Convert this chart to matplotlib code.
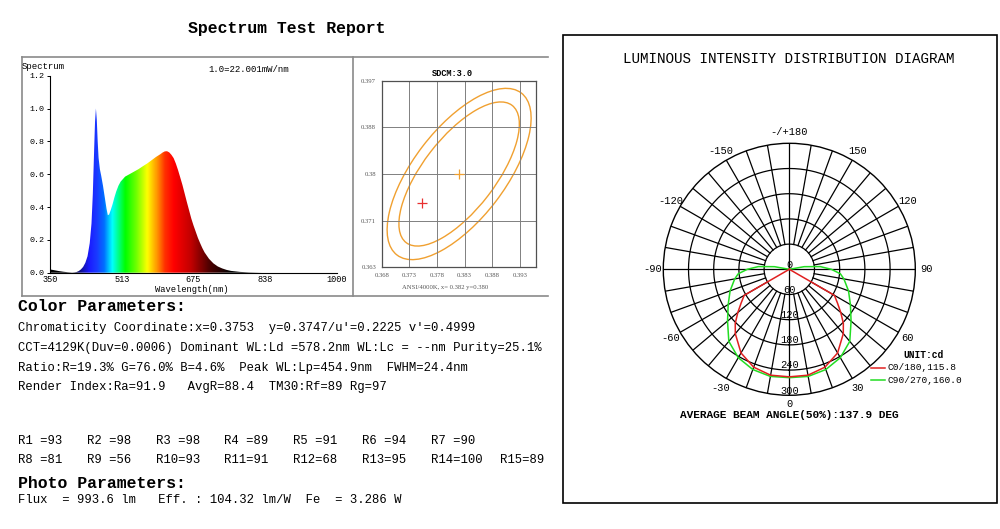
import numpy as np
import matplotlib
matplotlib.use("Agg")
import matplotlib.pyplot as plt
from matplotlib.colors import LinearSegmentedColormap, Normalize
from matplotlib.patches import Ellipse, Rectangle, Polygon

MONO = "Liberation Mono"

# ---- spectrum (relative, 1.0 = 22.001 mW/nm)
wavelength = [350, 360, 370, 380, 390, 400, 405, 410, 415, 420, 425, 430, 435, 440,
              444, 447, 450, 452, 454, 456, 458, 460, 463, 466, 470, 474, 478, 481,
              484, 488, 492, 496, 500, 505, 510, 515, 520, 530, 540, 550, 560, 570,
              580, 590, 600, 605, 610, 615, 620, 625, 630, 635, 640, 645, 650, 655,
              660, 665, 670, 675, 680, 685, 690, 695, 700, 710, 720, 730, 740, 750,
              760, 780, 800, 830, 1000]
intensity = [0.020, 0.015, 0.010, 0.006, 0.003, 0.001, 0.002, 0.004, 0.010, 0.020,
             0.035, 0.060, 0.100, 0.180, 0.300, 0.480, 0.750, 0.920, 1.000, 0.930,
             0.800, 0.700, 0.630, 0.590, 0.530, 0.460, 0.390, 0.350, 0.355, 0.385,
             0.420, 0.460, 0.495, 0.530, 0.555, 0.570, 0.585, 0.600, 0.615, 0.630,
             0.648, 0.665, 0.685, 0.705, 0.722, 0.732, 0.739, 0.740, 0.733, 0.718,
             0.698, 0.665, 0.625, 0.580, 0.534, 0.482, 0.430, 0.380, 0.330, 0.288,
             0.250, 0.212, 0.180, 0.150, 0.124, 0.085, 0.057, 0.038, 0.026, 0.017,
             0.011, 0.005, 0.002, 0.000, 0.000]
spec_xticks = [350, 512.5, 675, 837.5, 1000]
spec_xticklabels = ["350", "513", "675", "838", "1000"]
spec_yticks = [0.0, 0.2, 0.4, 0.6, 0.8, 1.0, 1.2]

# ---- chromaticity (SDCM)
cie_xticks = [0.368, 0.373, 0.378, 0.383, 0.388, 0.393]
cie_yticks = [0.363, 0.3715, 0.380, 0.3885, 0.397]
cie_yticklabels = ["0.363", "0.371", "0.38", "0.388", "0.397"]
target_xy = (0.382, 0.380)
measured_xy = (0.3753, 0.3747)
ellipse_width = [0.0371, 0.0315]
ellipse_height = [0.0166, 0.0131]
ellipse_angle = [52.8, 52.6]

# ---- luminous intensity (cd) vs angle
c0_angle = [0, 10, 20, 30, 40, 45, 50, 55, 60, 65]
c0_cd = [256, 256, 248, 230, 200, 182, 160, 140, 124, 0]
c90_angle = [0, 10, 20, 30, 40, 50, 60, 70, 80, 85, 90, 95, 100, 105]
c90_cd = [258, 259, 254, 243, 224, 192, 168, 150, 132, 122, 100, 74, 36, 0]
ring_values = [60, 120, 180, 240, 300]
angle_ticks = [0, 30, 60, 90, 120, 150, 180, -150, -120, -90, -60, -30]

# ---- report text
color_params = [
    "Chromaticity Coordinate:x=0.3753  y=0.3747/u'=0.2225 v'=0.4999",
    "CCT=4129K(Duv=0.0006) Dominant WL:Ld =578.2nm WL:Lc = --nm Purity=25.1%",
    "Ratio:R=19.3% G=76.0% B=4.6%  Peak WL:Lp=454.9nm  FWHM=24.4nm",
    "Render Index:Ra=91.9   AvgR=88.4  TM30:Rf=89 Rg=97",
]
cri_names = ["R%d" % i for i in range(1, 16)]
cri_values = [93, 98, 98, 89, 91, 94, 90, 81, 56, 93, 91, 68, 95, 100, 89]
photo_line = "Flux  = 993.6 lm   Eff. : 104.32 lm/W  Fe  = 3.286 W"

fig = plt.figure(figsize=(10, 5.29), dpi=100)
W, H = 1000, 529

# background axes in pixel coordinates for text and frames
bg = fig.add_axes([0, 0, 1, 1])
bg.set_xlim(0, W)
bg.set_ylim(H, 0)
bg.axis("off")

bg.text(287, 28, "Spectrum Test Report", family=MONO, weight="bold", fontsize=11.9,
        ha="center", va="center")
gray = "#8a8a8a"
for (x0, y0, x1, y1) in [(22, 57, 548, 57), (22, 57, 22, 296), (22, 296, 548, 296),
                         (353, 57, 353, 296)]:
    bg.plot([x0, x1], [y0, y1], color=gray, lw=1.2)

TXT = 8.8
bg.text(18, 306.5, "Color Parameters:", family=MONO, weight="bold", fontsize=11.9,
        va="center")
for i, line in enumerate(color_params):
    bg.text(18, 328 + i * 19.8, line, family=MONO, fontsize=TXT, va="center")

rows = [range(0, 7), range(7, 15)]
for j, idx in enumerate(rows):
    for col, k in enumerate(idx):
        bg.text(18 + col * 68.8, 440.5 + j * 19.5, "%-3s=%d" % (cri_names[k], cri_values[k]),
                family=MONO, fontsize=TXT, va="center")
bg.text(18, 483, "Photo Parameters:", family=MONO, weight="bold", fontsize=11.9,
        va="center")
bg.text(18, 500, photo_line, family=MONO, fontsize=TXT, va="center")

bg.add_patch(Rectangle((563, 35), 434, 468, fill=False, ec="black", lw=1.2))
bg.text(789, 59, "LUMINOUS INTENSITY DISTRIBUTION DIAGRAM", family=MONO,
        fontsize=10.3, ha="center", va="center")

# ---- spectrum axes
ax1 = fig.add_axes([50 / W, 1 - 272.7 / H, 287 / W, 197 / H])
spec_cmap = LinearSegmentedColormap.from_list("spec", [
    (0.0, "#000000"), ((400 - 350) / 650, "#000008"), ((418 - 350) / 650, "#101090"),
    ((438 - 350) / 650, "#1a1aff"), ((455 - 350) / 650, "#1a3aff"),
    ((472 - 350) / 650, "#0070ff"), ((490 - 350) / 650, "#00ffff"),
    ((505 - 350) / 650, "#00ff80"), ((520 - 350) / 650, "#00ff00"),
    ((545 - 350) / 650, "#70ff00"), ((570 - 350) / 650, "#ffff00"),
    ((590 - 350) / 650, "#ffa000"), ((610 - 350) / 650, "#ff3000"),
    ((630 - 350) / 650, "#ff0000"), ((670 - 350) / 650, "#c00000"),
    ((710 - 350) / 650, "#500000"), ((760 - 350) / 650, "#000000"), (1.0, "#000000")])
grad = np.linspace(350, 1000, 1300)[np.newaxis, :]
im = ax1.imshow(grad, extent=[350, 1000, 0, 1.2], origin="lower", aspect="auto",
                cmap=spec_cmap, norm=Normalize(350, 1000), interpolation="bilinear")
verts = list(zip(wavelength, intensity)) + [(1000, 0), (350, 0)]
shape = Polygon(verts, closed=True, fc="none", ec="none")
ax1.add_patch(shape)
im.set_clip_path(shape)
ax1.set_xlim(350, 1000)
ax1.set_ylim(0, 1.2)
ax1.spines[["top", "right"]].set_visible(False)
ax1.set_xticks(spec_xticks, spec_xticklabels, family=MONO, fontsize=6.2)
ax1.set_yticks(spec_yticks, ["%.1f" % v for v in spec_yticks], family=MONO, fontsize=6)
ax1.tick_params(axis="y", length=2.5, width=0.7, pad=1.5)
ax1.tick_params(axis="x", length=0, pad=1.5)
bg.text(22, 66.5, "Spectrum", family=MONO, fontsize=6.5, va="center")
bg.text(249, 69, "1.0=22.001mW/nm", family=MONO, fontsize=6.5, ha="center", va="center")
bg.text(192, 290, "Wavelength(nm)", family=MONO, fontsize=6.3, ha="center", va="center")

# ---- chromaticity axes
ax2 = fig.add_axes([381.7 / W, 1 - 267.3 / H, 154.3 / W, 186.6 / H])
ax2.set_xlim(0.368, 0.3959)
ax2.set_ylim(0.363, 0.397)
ax2.set_xticks(cie_xticks, ["%.3f" % v for v in cie_xticks], family="Liberation Serif",
               fontsize=4.8, color="#555555")
ax2.set_yticks(cie_yticks, cie_yticklabels, family="Liberation Serif", fontsize=4.8,
               color="#555555")
ax2.tick_params(length=0, pad=4)
ax2.grid(True, color="#808080", lw=0.7)
for s in ax2.spines.values():
    s.set_color("#505050")
    s.set_linewidth(0.9)
for w, h, a in zip(ellipse_width, ellipse_height, ellipse_angle):
    ax2.add_patch(Ellipse(target_xy, w, h, angle=a, fill=False, ec="#f0a030", lw=1.0))
ax2.plot(*target_xy, marker="+", color="#f0a030", ms=7, mew=0.9)
ax2.plot(*measured_xy, marker="+", color="#e83030", ms=7, mew=0.9)
bg.text(452, 73.5, "SDCM:3.0", family=MONO, weight="bold", fontsize=6.2,
        ha="center", va="center")
bg.text(445, 288, "ANSI/4000K, x= 0.382 y=0.380", family="Liberation Serif",
        fontsize=4.8, color="#555555", ha="center", va="center")

# ---- polar luminous intensity diagram
cx, cy, R = 789.3, 269.3, 126
ax3 = fig.add_axes([(cx - R) / W, 1 - (cy + R) / H, 2 * R / W, 2 * R / H],
                   projection="polar")
ax3.set_theta_zero_location("S")
ax3.set_theta_direction(1)
ax3.set_ylim(0, 300)
ax3.grid(False)
ax3.set_xticks([])
ax3.set_yticks([])
ax3.spines["polar"].set_linewidth(1.0)
th = np.linspace(0, 2 * np.pi, 361)
for r in ring_values[:-1]:
    ax3.plot(th, np.full_like(th, r), color="black", lw=0.9)
for a in range(-180, 180, 10):
    r0 = 0 if a % 90 == 0 else ring_values[0]
    ax3.plot([np.deg2rad(a)] * 2, [r0, 300], color="black", lw=0.9)

c0 = np.array(c0_angle)
red_t = np.deg2rad(np.concatenate([-c0[::-1], c0]))
red_r = np.concatenate([np.array(c0_cd)[::-1], c0_cd])
c90 = np.array(c90_angle)
grn_t = np.deg2rad(np.concatenate([-c90[::-1], c90]))
grn_r = np.concatenate([np.array(c90_cd)[::-1], c90_cd])
ax3.plot(grn_t, grn_r, color="#22dd22", lw=1.1)
ax3.plot(red_t, red_r, color="#e02020", lw=1.1)

for r in ring_values:
    ax3.text(0, r - 11, str(r), family=MONO, fontsize=7.5, ha="center", va="center")
ax3.text(np.pi, 10, "0", family=MONO, fontsize=7.5, ha="center", va="center")
for a in angle_ticks:
    lab = "-/+180" if a == 180 else str(a)
    rr = 320 if a == 0 else 326
    ax3.text(np.deg2rad(a), rr, lab, family=MONO, fontsize=7.5, ha="center",
             va="center")

bg.text(924, 355, "UNIT:cd", family=MONO, weight="bold", fontsize=6.9,
        ha="center", va="center")
bg.plot([871, 885], [368, 368], color="#e02020", lw=1.1)
bg.plot([871, 885], [380, 380], color="#22dd22", lw=1.1)
bg.text(887, 368, "C0/180,115.8", family=MONO, fontsize=6.8, va="center")
bg.text(887, 380.5, "C90/270,160.0", family=MONO, fontsize=6.8, va="center")
bg.text(789, 415, "AVERAGE BEAM ANGLE(50%):137.9 DEG", family=MONO, weight="bold",
        fontsize=8, ha="center", va="center")

fig.savefig("out.png", dpi=100)
